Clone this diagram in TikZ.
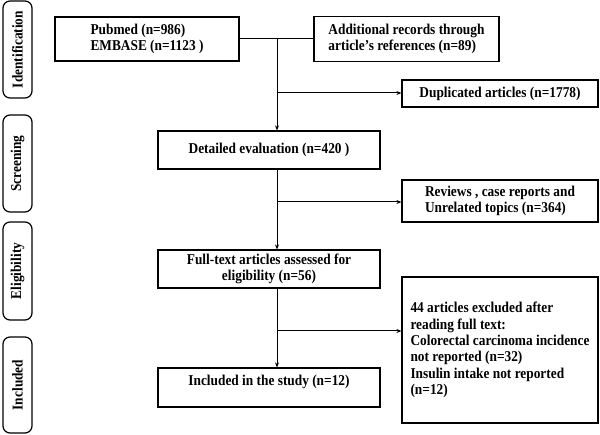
\documentclass[tikz,border=0pt]{standalone}
\usepackage{fontspec}
\setmainfont{Liberation Serif}[FakeStretch=0.89]
\usetikzlibrary{arrows.meta}
\begin{document}
\begin{tikzpicture}[x=1pt,y=-1pt,
  every node/.style={font=\bfseries\fontsize{15}{16.3}\selectfont, inner sep=0pt},
  box/.style={draw, line width=1.2pt, rectangle},
  side/.style={draw, line width=1.2pt, rounded corners=7pt, rotate=90},
  conn/.style={line width=1pt},
  arr/.style={conn, -{Stealth[length=5pt,width=4pt]}}]
\useasboundingbox (0,0) rectangle (600,435);
% side labels
\node[side, minimum height=29pt, minimum width=97pt] (sid) at (17.5,49.5) {Identification};
\node[side, minimum height=29pt, minimum width=97pt] (ssc) at (17.5,163.5) {Screening};
\node[side, minimum height=29pt, minimum width=98pt] (sel) at (17.5,271) {Eligibility};
\node[side, minimum height=29pt, minimum width=96pt] (sin) at (17.5,385) {Included};
% boxes
\node[box, minimum width=184pt, minimum height=44pt, align=left] (pub) at (147,39) {Pubmed (n=986)\\EMBASE (n=1123 )};
\node[box, minimum width=185pt, minimum height=45pt, align=left] (add) at (406.5,39) {Additional records through\\article's references (n=89)};
\node[box, minimum width=196pt, minimum height=27pt] (dup) at (500,93.5) {Duplicated articles (n=1778)};
\node[box, minimum width=222pt, minimum height=38pt] (det) at (269,150) {Detailed evaluation (n=420 )};
\node[box, minimum width=196pt, minimum height=42pt, align=left] (rev) at (500,201) {Reviews , case reports and\\Unrelated topics (n=364)};
\node[box, minimum width=222pt, minimum height=38pt, align=center] (ful) at (269,269) {Full-text articles assessed for\\eligibility (n=56)};
\node[box, minimum width=196pt, minimum height=146pt, align=left] (exc) at (500,350) {44 articles excluded after\\reading full text:\\Colorectal carcinoma incidence\\not reported (n=32)\\Insulin intake not reported\\(n=12)};
\node[box, minimum width=222pt, minimum height=39pt, text depth=14pt] (inc) at (269,387.5) {Included in the study (n=12)};
% connectors
\coordinate (j1) at (277,39);
\coordinate (b1) at (277,93);
\coordinate (b2) at (277,202);
\coordinate (b3) at (277,331);
\draw[conn] (pub.east) -- (add.west);
\draw[arr] (j1) -- (j1 |- det.north);
\draw[arr] (b1) -- (b1 -| dup.west);
\draw[arr] (det.south -| j1) -- (ful.north -| j1);
\draw[arr] (b2) -- (b2 -| rev.west);
\draw[arr] (ful.south -| j1) -- (inc.north -| j1);
\draw[arr] (b3) -- (b3 -| exc.west);
\end{tikzpicture}
\end{document}
